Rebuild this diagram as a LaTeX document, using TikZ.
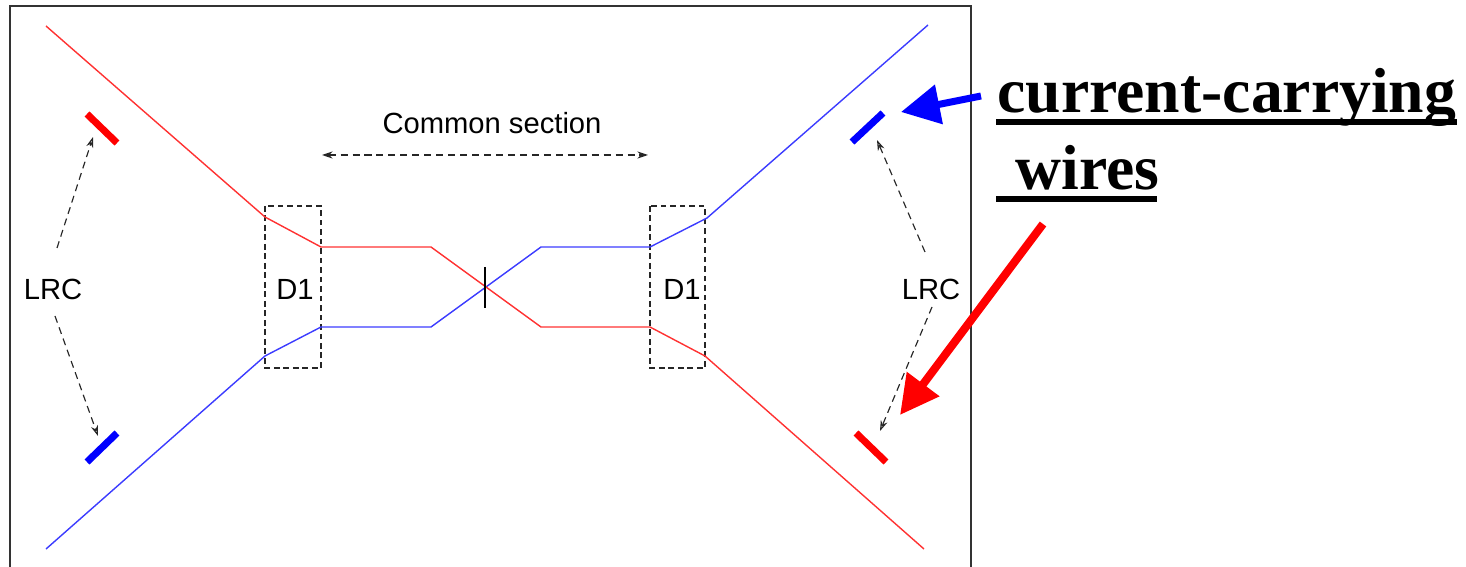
\documentclass[tikz,border=0pt]{standalone}
\usepackage{fontspec}
\setmainfont{Liberation Sans}
\newfontfamily\titlefont{Liberation Serif}
\usetikzlibrary{arrows.meta}
\definecolor{wirered}{RGB}{255,50,50}
\definecolor{wireblue}{RGB}{60,60,255}
\tikzset{
  x=0.01cm,y=-0.01cm,
  frameline/.style={draw=black!80,line width=0.4pt},
  wire/.style={line width=0.4pt,line join=round},
  bar/.style={line width=2pt},
  dimarrow/.style={draw=black!85,line width=0.33pt,dash pattern=on 2pt off 1.4pt,
    -{Stealth[length=3pt,width=2pt,open]}},
  dimboth/.style={dimarrow,{Stealth[length=3pt,width=2pt]}-{Stealth[length=3pt,width=2pt]}},
  dbox/.style={draw=black!85,line width=0.4pt,dash pattern=on 1.6pt off 1.1pt},
  lbl/.style={inner sep=0pt,font=\fontsize{8.3}{10}\selectfont,text=black},
  bigtext/.style={inner sep=0pt,anchor=base west,font=\titlefont\bfseries\fontsize{18.1}{20}\selectfont},
  rule/.style={line width=1.7pt,line cap=butt},
  bigarrow/.style={line width=#1,-{Triangle[length=11pt,width=11pt]}},
}
\begin{document}
\begin{tikzpicture}
\useasboundingbox (0,0) rectangle (1466,567);
% frame
\coordinate (fbl) at (10,567); \coordinate (ftl) at (10,6);
\coordinate (ftr) at (971,6);  \coordinate (fbr) at (971,567);
\draw[frameline] (fbl) -- (ftl) -- (ftr) -- (fbr);
% labels
\node[lbl] (lrcL) at (53,289) {LRC};
\node[lbl] (lrcR) at (931,289) {LRC};
\node[lbl] (d1L) at (295,289) {D1};
\node[lbl] (d1R) at (682,289) {D1};
\node[lbl] (common) at (492,123) {Common section};
% D1 boxes
\draw[dbox] (265,206) rectangle (321,368);
\draw[dbox] (650,206) rectangle (705,368);
% wires
\draw[wire,wireblue] (46,549) -- (265,356) -- (321,327) -- (431,327) -- (541,247) -- (650,247) -- (707,218) -- (928,25);
\draw[wire,wirered] (46,26) -- (265,217) -- (321,247) -- (431,247) -- (541,327) -- (650,327) -- (705,356) -- (924,549);
% IP tick
\coordinate (tickT) at (485,267); \coordinate (tickB) at (485,308);
\draw[black,line width=0.35pt] (tickT) -- (tickB);
% bars (LRC collimators)
\coordinate (barA1) at (87,114);  \coordinate (barA2) at (117,143);
\coordinate (barB1) at (87,462);  \coordinate (barB2) at (117,433);
\coordinate (barC1) at (852,142); \coordinate (barC2) at (883,113);
\coordinate (barD1) at (856,433); \coordinate (barD2) at (886,462);
\draw[bar,red] (barA1) -- (barA2);
\draw[bar,blue] (barB1) -- (barB2);
\draw[bar,blue] (barC1) -- (barC2);
\draw[bar,red] (barD1) -- (barD2);
% dashed arrows
\coordinate (tipA) at (93,137); \coordinate (tipB) at (98,436);
\coordinate (tipC) at (877,140); \coordinate (tipD) at (880,431);
\coordinate (srcA) at (57,248); \coordinate (srcB) at (55,316);
\coordinate (srcC) at (925,252); \coordinate (srcD) at (932,307);
\draw[dimarrow] (srcA) -- (tipA);
\draw[dimarrow] (srcB) -- (tipB);
\draw[dimarrow] (srcC) -- (tipC);
\draw[dimarrow] (srcD) -- (tipD);
\coordinate (comL) at (322,155); \coordinate (comR) at (648,155);
\draw[dimboth] (comL) -- (comR);
% big text
\node[bigtext] (t1) at (997,113) {current-carrying};
\node[bigtext] (t2) at (1015,190) {wires};
\coordinate (u1a) at (996,122); \coordinate (u1b) at (1457,122);
\coordinate (u2a) at (996,199); \coordinate (u2b) at (1157,199);
\draw[rule] (u1a) -- (u1b);
\draw[rule] (u2a) -- (u2b);
% big arrows
\coordinate (bTail) at (981,96);  \coordinate (bTip) at (901,112);
\coordinate (rTail) at (1043,224); \coordinate (rTip) at (900,415);
\draw[bigarrow=2pt,blue] (bTail) -- (bTip);
\draw[bigarrow=2.3pt,red] (rTail) -- (rTip);
\end{tikzpicture}
\end{document}
